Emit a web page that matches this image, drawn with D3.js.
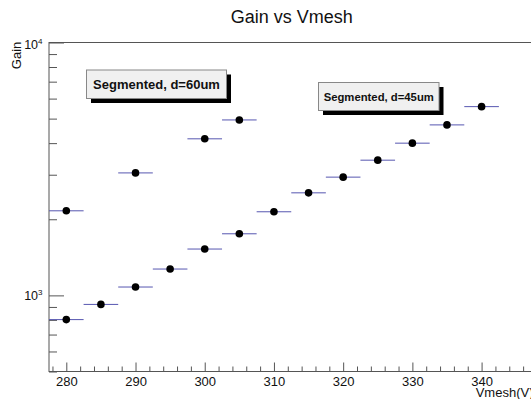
<!DOCTYPE html>
<html>
<head>
<meta charset="utf-8">
<script src="https://cdn.jsdelivr.net/npm/d3@7"></script>
<style>
  html, body { margin: 0; padding: 0; background: #fff; }
  svg { display: block; font-family: "Liberation Sans", Arial, sans-serif; }
</style>
</head>
<body>
<svg id="chart" width="531" height="399"></svg>
<script>
// Gain measurements for two segmented mesh gaps
const vmesh60 = [280, 290, 300, 305];
const gain60 = [2160, 3050, 4160, 4940];
const vmesh45 = [280, 285, 290, 295, 300, 305, 310, 315, 320, 325, 330, 335, 340];
const gain45 = [802, 921, 1079, 1271, 1525, 1752, 2141, 2544, 2935, 3425, 3999, 4722, 5577];
const vmeshHalfBin = 2.5;

const xTickValues = [280, 290, 300, 310, 320, 330, 340];
const yDecades = [1000, 10000];
const legendLabels = ["Segmented, d=60um", "Segmented, d=45um"];
const titleText = "Gain vs Vmesh";
const xTitle = "Vmesh(V)";
const yTitle = "Gain";

const svg = d3.select("#chart");
const frame = { left: 49, top: 42.5, right: 533.5, bottom: 371.5 };

const x = d3.scaleLinear().domain([277.5, 347.5]).range([frame.left, frame.right]);
const y = d3.scaleLog().domain([500, 10000]).range([frame.bottom, frame.top]);

// frame
svg.append("rect")
  .attr("x", frame.left).attr("y", frame.top)
  .attr("width", frame.right - frame.left).attr("height", frame.bottom - frame.top)
  .attr("fill", "none").attr("stroke", "#555").attr("stroke-width", 1);

// x axis: major and minor ticks drawn inward
const xMinor = d3.range(278, 348, 2).filter(v => v % 10 !== 0);
const xAxisG = svg.append("g").attr("transform", `translate(0,${frame.bottom})`);
xAxisG.append("g")
  .call(d3.axisBottom(x).tickValues(xMinor).tickSize(-5).tickFormat(""))
  .call(g => g.select(".domain").remove())
  .call(g => g.selectAll("line").attr("stroke", "#555"));
xAxisG.append("g")
  .call(d3.axisBottom(x).tickValues(xTickValues).tickSize(-9).tickPadding(5.5).tickFormat(d3.format("d")))
  .call(g => g.select(".domain").remove())
  .call(g => g.selectAll("line").attr("stroke", "#555"))
  .call(g => g.selectAll("text")
    .attr("font-size", 13).attr("fill", "#111")
    .attr("font-family", "Liberation Sans, Arial, sans-serif")
    .attr("dy", "0.71em"));

// y axis: log minor ticks every unit of each decade
const yMinor = [];
[100, 1000].forEach(dec => {
  for (let k = 2; k <= 9; k++) {
    const v = k * dec;
    if (v >= 500 && v < 10000) yMinor.push(v);
  }
});
const yAxisG = svg.append("g").attr("transform", `translate(${frame.left},0)`);
yAxisG.append("g")
  .call(d3.axisLeft(y).tickValues(yMinor).tickSize(-8).tickFormat(""))
  .call(g => g.select(".domain").remove())
  .call(g => g.selectAll("line").attr("stroke", "#555"));
yAxisG.append("g")
  .call(d3.axisLeft(y).tickValues(yDecades).tickSize(-15).tickFormat(""))
  .call(g => g.select(".domain").remove())
  .call(g => g.selectAll("line").attr("stroke", "#555"));

// decade labels as 10 with superscript exponent
yDecades.forEach(v => {
  const t = svg.append("text")
    .attr("x", 42.5).attr("y", y(v) + 5 + (v === 10000 ? 1.5 : 0))
    .attr("text-anchor", "end")
    .attr("font-size", 12.5).attr("fill", "#111");
  t.append("tspan").text("10");
  t.append("tspan").attr("font-size", 8).attr("dy", -5).text(String(Math.round(Math.log10(v))));
});

// titles
svg.append("text")
  .attr("x", 291.7).attr("y", 22.5).attr("text-anchor", "middle")
  .attr("font-size", 18).attr("fill", "#111").text(titleText);
svg.append("text")
  .attr("x", frame.right).attr("y", 397).attr("text-anchor", "end")
  .attr("font-size", 13).attr("fill", "#111").text(xTitle);
svg.append("text")
  .attr("transform", "translate(20.5,41.7) rotate(-90)")
  .attr("text-anchor", "end")
  .attr("font-size", 13).attr("fill", "#111").text(yTitle);

// data series with horizontal bin-width bars
function drawSeries(xs, ys) {
  const data = xs.map((v, i) => ({ v, g: ys[i] }));
  const g = svg.append("g");
  g.selectAll("line").data(data).join("line")
    .attr("x1", d => x(d.v - vmeshHalfBin)).attr("x2", d => x(d.v + vmeshHalfBin))
    .attr("y1", d => y(d.g)).attr("y2", d => y(d.g))
    .attr("stroke", "#5656b0").attr("stroke-width", 1);
  g.selectAll("circle").data(data).join("circle")
    .attr("cx", d => x(d.v)).attr("cy", d => y(d.g)).attr("r", 3.8)
    .attr("fill", "#000");
}
drawSeries(vmesh60, gain60);
drawSeries(vmesh45, gain45);

// text boxes with drop shadow
function textBox(x0, y0, w, h, label, size) {
  const g = svg.append("g");
  g.append("rect").attr("x", x0 + 4.5).attr("y", y0 + 4.5).attr("width", w).attr("height", h).attr("fill", "#000");
  g.append("rect").attr("x", x0).attr("y", y0).attr("width", w).attr("height", h)
    .attr("fill", "#f0f0f0").attr("stroke", "#888").attr("stroke-width", 1);
  g.append("text").attr("x", x0 + w / 2).attr("y", y0 + h / 2 + size * 0.36)
    .attr("text-anchor", "middle").attr("font-weight", "bold")
    .attr("font-size", size).attr("fill", "#111").text(label);
}
textBox(86.5, 70, 140, 28.5, legendLabels[0], 13);
textBox(318.5, 82.5, 120.5, 28, legendLabels[1], 11.3);
</script>
</body>
</html>
